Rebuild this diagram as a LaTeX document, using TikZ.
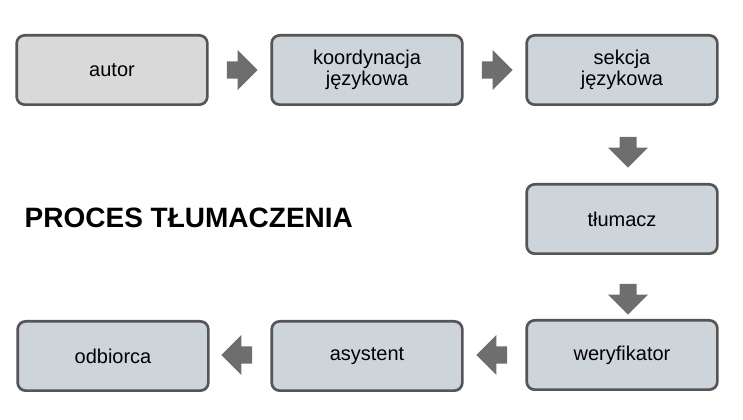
\documentclass[tikz,border=0pt]{standalone}
\usepackage{fontspec}
\setmainfont{Liberation Sans}
\usetikzlibrary{shapes.arrows}
\definecolor{boxgray}{HTML}{D9D9D9}
\definecolor{boxblue}{HTML}{CDD5DA}
\definecolor{edge}{HTML}{555555}
\definecolor{arrowgray}{HTML}{6E6E6E}
\tikzset{
  stage/.style={draw=edge,line width=2pt,rounded corners=6pt,fill=boxblue,
    minimum width=143pt,minimum height=52pt,align=center,
    font=\fontsize{15}{16}\selectfont},
  flow/.style={single arrow,fill=arrowgray,draw=none,minimum height=23pt,
    single arrow head extend=5pt,minimum width=30pt,inner sep=3.5pt},
}
\begin{document}
\begin{tikzpicture}[x=0.75pt,y=-0.75pt]
  \useasboundingbox (0,0) rectangle (743,420);
  \node[stage,fill=boxgray] (autor) at (112,70) {autor};
  \node[stage] (koord) at (367,70) {koordynacja\\języ​kowa};
  \node[stage] (sekcja) at (622,70) {sekcja\\językowa};
  \node[stage] (tlum) at (622,219) {tłumacz};
  \node[stage] (weryf) at (622,355) {weryfikator};
  \node[stage] (asyst) at (367,356) {asystent};
  \node[stage] (odb) at (113,356) {odbiorca};
  \node[font=\bfseries\fontsize{21}{24}\selectfont,anchor=west] (title) at (20,218) {PROCES TŁUMACZENIA};
  % strzalki
  \node[flow] (a1) at (238,70) {};
  \node[flow] (a2) at (493,70) {};
  \node[flow,rotate=-90] (a3) at (628,148) {};
  \node[flow,rotate=-90] (a4) at (628,295) {};
  \node[flow,rotate=180] (a5) at (496,355) {};
  \node[flow,rotate=180] (a6) at (241,355) {};
\end{tikzpicture}
\end{document}
